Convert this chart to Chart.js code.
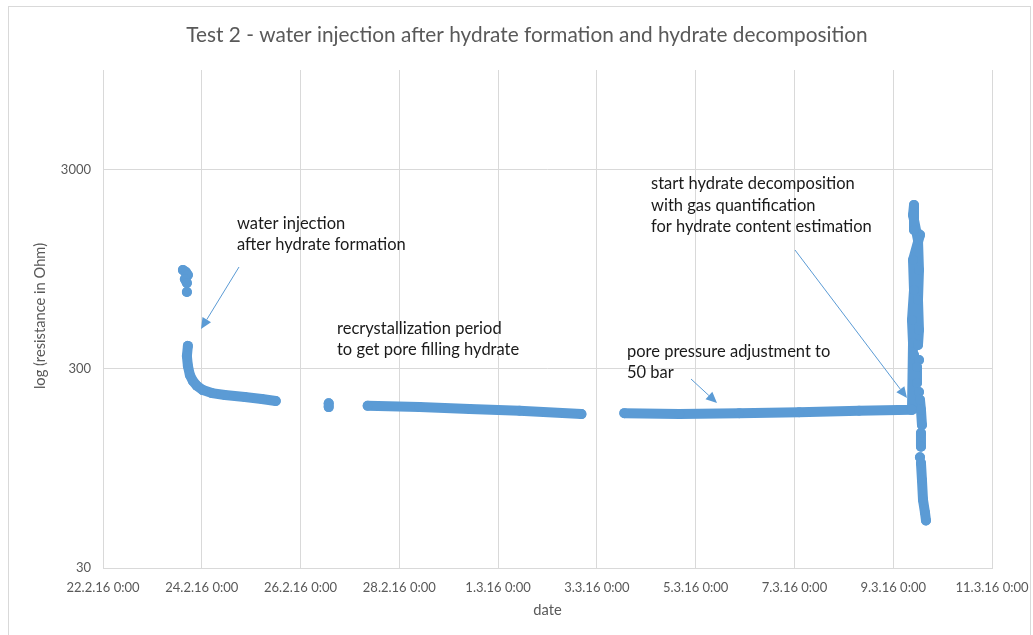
<!DOCTYPE html>
<html>
<head>
<meta charset="utf-8">
<script src="https://cdn.jsdelivr.net/npm/chart.js@4/dist/chart.umd.min.js"></script>
<style>
html,body{margin:0;padding:0;background:#fff;}
#wrap{width:1033px;height:635px;position:relative;}
</style>
</head>
<body>
<div id="wrap"><canvas id="c" width="1033" height="635"></canvas></div>
<script>
// ---- data ----
const chartTitle = "Test 2 - water injection after hydrate formation and hydrate decomposition";
const xTitle = "date";
const yTitle = "log (resistance in Ohm)";
const xStart = "2016-02-22T00:00";
const xEnd = "2016-03-11T00:00";
const xTickStepDays = 2;
const yTicks = [30, 300, 3000];
const yMin = 30;
const yMax = 9540;

// measurement times (null = gap in the record)
const times = [
  "2016-02-23T14:50","2016-02-23T16:17","2016-02-23T17:15","2016-02-23T15:48","2016-02-23T16:46", null,
  "2016-02-23T16:46", null,
  "2016-02-23T17:15","2016-02-23T16:46","2016-02-23T17:15","2016-02-23T18:13","2016-02-23T19:41","2016-02-23T21:37",
  "2016-02-24T00:32","2016-02-24T04:54","2016-02-24T11:13","2016-02-24T20:55","2016-02-25T05:10","2016-02-25T11:57", null,
  "2016-02-26T13:41","2016-02-26T13:41", null,
  "2016-02-27T08:37","2016-02-28T09:50","2016-02-29T10:07","2016-03-01T10:24","2016-03-02T16:29", null,
  "2016-03-03T13:20","2016-03-04T16:02","2016-03-05T21:10","2016-03-07T02:17","2016-03-08T07:24","2016-03-09T08:38",
  "2016-03-09T09:07","2016-03-09T09:37","2016-03-09T09:07","2016-03-09T10:06","2016-03-09T09:37","2016-03-09T13:00",
  "2016-03-09T10:06","2016-03-09T10:06","2016-03-09T09:37","2016-03-09T12:02","2016-03-09T12:31","2016-03-09T12:02",
  "2016-03-09T12:31","2016-03-09T12:02", null,
  "2016-03-09T10:06", null,
  "2016-03-09T12:31", null,
  "2016-03-09T11:33","2016-03-09T11:33", null,
  "2016-03-09T12:31", null,
  "2016-03-09T13:00","2016-03-09T13:29","2016-03-09T13:58", null,
  "2016-03-09T13:29","2016-03-09T13:29", null,
  "2016-03-09T13:00", null,
  "2016-03-09T13:29","2016-03-09T13:58","2016-03-09T14:28","2016-03-09T15:26","2016-03-09T15:55"
];
// resistance in Ohm
const resistance = [
  943, 922, 890, 850, 812, null,
  731, null,
  392, 349, 311, 280, 261, 247,
  235, 227, 222, 217, 212, 207, null,
  202, 193, null,
  196, 193, 189, 185, 178, null,
  180, 178, 180, 182, 185, 187,
  187, 405, 529, 748, 1059, 1415,
  1498, 2000, 1782, 1334, 943, 667,
  471, 396, null,
  353, null,
  333, null,
  307, 255, null,
  230, null,
  210, 187, 157, null,
  143, 122, null,
  108, null,
  101, 83, 66, 57, 52
];

// annotation texts
const noteWater = ["water injection", "after hydrate formation"];
const noteRecryst = ["recrystallization period", "to get pore filling hydrate"];
const notePressure = ["pore pressure adjustment to", "50 bar"];
const noteDecomp = ["start hydrate decomposition", "with gas quantification", "for hydrate content estimation"];

// ---- build ----
const DAY = 86400000;
const t0 = Date.parse(xStart + ":00Z");
const toDay = s => (Date.parse(s + ":00Z") - t0) / DAY;
const xMaxDays = toDay(xEnd);
let lastX = 0;
const points = times.map((t, i) => {
  if (t === null) return {x: lastX, y: null};
  lastX = toDay(t);
  return {x: lastX, y: resistance[i]};
});

const BLUE = "#5B9BD5";
const GRID = "#D9D9D9";
const TXT = "#595959";
const FONT = "Lato, 'Open Sans', sans-serif";

function arrow(ctx, x1, y1, x2, y2) {
  ctx.save();
  ctx.strokeStyle = BLUE; ctx.fillStyle = BLUE; ctx.lineWidth = 1;
  const a = Math.atan2(y2 - y1, x2 - x1);
  const L = 11, W = 5;
  const bx = x2 - L * Math.cos(a), by = y2 - L * Math.sin(a);
  ctx.beginPath(); ctx.moveTo(x1, y1); ctx.lineTo(bx, by); ctx.stroke();
  ctx.beginPath();
  ctx.moveTo(x2, y2);
  ctx.lineTo(bx + W * Math.sin(a), by - W * Math.cos(a));
  ctx.lineTo(bx - W * Math.sin(a), by + W * Math.cos(a));
  ctx.closePath(); ctx.fill();
  ctx.restore();
}
function lines(ctx, arr, x, y, dy) {
  arr.forEach((s, i) => ctx.fillText(s, x, y + i * dy));
}

const decor = {
  id: "decor",
  beforeDraw(chart) {
    const ctx = chart.ctx;
    ctx.save();
    ctx.fillStyle = "#fff";
    ctx.fillRect(0, 0, chart.width, chart.height);
    ctx.strokeStyle = GRID; ctx.lineWidth = 1;
    ctx.strokeRect(8.5, 6.5, 1022, 640);
    ctx.restore();
  },
  afterDraw(chart) {
    const ctx = chart.ctx;
    const ca = chart.chartArea;
    ctx.save();
    // title
    ctx.fillStyle = TXT;
    ctx.textAlign = "center"; ctx.textBaseline = "middle";
    ctx.font = "20.8px " + FONT;
    ctx.fillText(chartTitle, 527, 35);
    // axis titles
    ctx.font = "14.7px " + FONT;
    ctx.fillText(xTitle, (ca.left + ca.right) / 2, 610);
    ctx.save();
    ctx.translate(40, 316);
    ctx.rotate(-Math.PI / 2);
    ctx.fillText(yTitle, 0, 0);
    ctx.restore();
    // annotations
    ctx.fillStyle = "#1a1a1a";
    ctx.textAlign = "left";
    ctx.font = "16.5px " + FONT;
    lines(ctx, noteWater, 237, 224, 20.5);
    lines(ctx, noteRecryst, 337, 329, 21);
    lines(ctx, notePressure, 627, 352, 21);
    lines(ctx, noteDecomp, 651, 184, 21.5);
    ctx.restore();
    arrow(ctx, 239, 267, 201, 329);
    arrow(ctx, 691, 379, 717, 403);
    arrow(ctx, 795, 250, 907, 398);
  }
};

new Chart(document.getElementById("c"), {
  type: "scatter",
  data: {
    datasets: [{
      data: points,
      showLine: true,
      spanGaps: false,
      borderColor: BLUE,
      backgroundColor: BLUE,
      borderWidth: 10,
      borderCapStyle: "round",
      borderJoinStyle: "round",
      pointRadius: 5,
      pointHoverRadius: 5,
      pointBorderWidth: 0,
      tension: 0
    }]
  },
  plugins: [decor],
  options: {
    responsive: false,
    animation: false,
    events: [],
    layout: {padding: {left: 0, right: 41, top: 70, bottom: 0}},
    plugins: {legend: {display: false}, tooltip: {enabled: false}, title: {display: false}},
    scales: {
      x: {
        type: "linear",
        min: 0, max: xMaxDays,
        afterFit(s) { s.height = 67; s.paddingLeft = 0; s.paddingRight = 0; },
        afterBuildTicks(s) {
          const t = [];
          for (let v = 0; v <= xMaxDays + 1e-9; v += xTickStepDays) t.push({value: v});
          s.ticks = t;
        },
        grid: {color: GRID, drawTicks: false, lineWidth: 1},
        border: {color: GRID, width: 1},
        ticks: {
          padding: 12,
          autoSkip: false, maxRotation: 0,
          color: TXT,
          font: {family: FONT, size: 13},
          callback(v) {
            const d = new Date(t0 + v * DAY);
            return d.getUTCDate() + "." + (d.getUTCMonth() + 1) + ".16 0:00";
          }
        }
      },
      y: {
        type: "logarithmic",
        min: yMin, max: yMax,
        afterFit(s) { s.width = 103; s.paddingTop = 0; s.paddingBottom = 0; },
        afterBuildTicks(s) { s.ticks = yTicks.map(v => ({value: v})); },
        grid: {color: GRID, drawTicks: false, lineWidth: 1},
        border: {display: false},
        ticks: {
          padding: 12,
          color: TXT,
          font: {family: FONT, size: 13},
          callback(v) { return String(v); }
        }
      }
    }
  }
});
</script>
</body>
</html>
